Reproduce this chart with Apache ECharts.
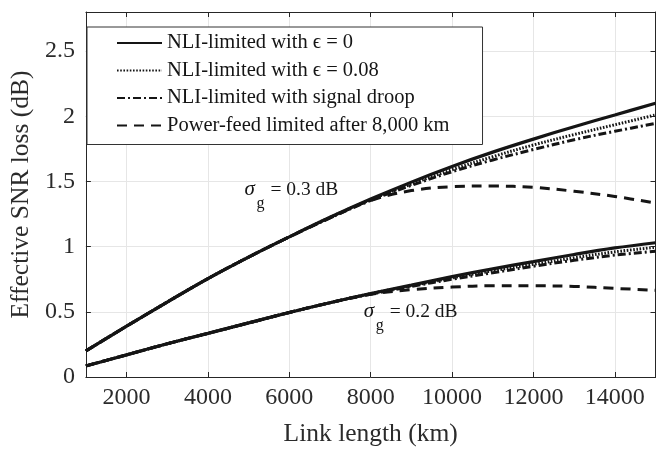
<!DOCTYPE html>
<html>
<head>
<meta charset="utf-8">
<script src="https://cdn.jsdelivr.net/npm/echarts@6/dist/echarts.min.js"></script>
<style>
  html, body { margin: 0; padding: 0; background: #fff; }
  #chart { width: 671px; height: 452px; }
</style>
</head>
<body>
<div id="chart"></div>
<script>
// Link length samples (km)
const linkKm = [1000, 2000, 3000, 4000, 5000, 6000, 7000, 8000, 9000, 10000, 11000, 12000, 13000, 14000, 15000];

// Gain-ripple sigma_g = 0.3 dB
const nliEps0_s03   = [0.20, 0.39, 0.575, 0.755, 0.92, 1.075, 1.225, 1.365, 1.495, 1.615, 1.725, 1.825, 1.92, 2.01, 2.10];
const nliEps008_s03 = [0.20, 0.39, 0.575, 0.755, 0.92, 1.075, 1.225, 1.36, 1.48, 1.59, 1.69, 1.78, 1.86, 1.935, 2.01];
const nliDroop_s03  = [0.20, 0.39, 0.575, 0.755, 0.92, 1.075, 1.22, 1.355, 1.47, 1.575, 1.665, 1.745, 1.82, 1.885, 1.945];
const powerFeed_s03 = [0.20, 0.39, 0.575, 0.755, 0.92, 1.075, 1.22, 1.355, 1.43, 1.46, 1.465, 1.455, 1.425, 1.385, 1.335];

// Gain-ripple sigma_g = 0.2 dB
const nliEps0_s02   = [0.085, 0.17, 0.255, 0.335, 0.415, 0.495, 0.57, 0.64, 0.705, 0.77, 0.83, 0.885, 0.94, 0.99, 1.03];
const nliEps008_s02 = [0.085, 0.17, 0.255, 0.335, 0.415, 0.495, 0.57, 0.64, 0.70, 0.76, 0.815, 0.865, 0.915, 0.96, 0.995];
const nliDroop_s02  = [0.085, 0.17, 0.255, 0.335, 0.415, 0.495, 0.57, 0.635, 0.695, 0.75, 0.80, 0.85, 0.895, 0.935, 0.965];
const powerFeed_s02 = [0.085, 0.17, 0.255, 0.335, 0.415, 0.495, 0.57, 0.635, 0.67, 0.69, 0.70, 0.70, 0.695, 0.68, 0.665];

// Axis ticks
const xTicks = [2000, 4000, 6000, 8000, 10000, 12000, 14000];
const yTicks = [0, 0.5, 1, 1.5, 2, 2.5];

// Legend entries
const legendNames = [
  'NLI-limited with \u03F5 = 0',
  'NLI-limited with \u03F5 = 0.08',
  'NLI-limited with signal droop',
  'Power-feed limited after 8,000 km'
];

// Curve annotations: anchor (km, dB) at the baseline-left of the label
const annotations = [
  { km: 4900, value: 1.40, text: ' = 0.3 dB' },
  { km: 7830, value: 0.46, text: ' = 0.2 dB' }
];

const SERIF = '"Liberation Serif", "DejaVu Serif", serif';
const INK = '#151515';
const AXIS = '#262626';
const TEXT = '#2b2b2b';

const styles = [
  { width: 3.2, type: 'solid' },
  { width: 3, type: [1.6, 1.6] },
  { width: 3, type: [8, 3, 2, 3] },
  { width: 3, type: [10, 7] }
];

function pairs(values) {
  return linkKm.map((k, i) => [k, values[i]]);
}

function line(nameIdx, values, z) {
  return {
    name: legendNames[nameIdx],
    type: 'line',
    data: pairs(values),
    showSymbol: false,
    symbol: 'none',
    smooth: 0.35,
    z: z,
    lineStyle: { color: INK, width: styles[nameIdx].width, type: styles[nameIdx].type, cap: 'butt' },
    itemStyle: { color: INK },
    emphasis: { disabled: true },
    animation: false
  };
}

const chart = echarts.init(document.getElementById('chart'), null, { renderer: 'canvas' });

const tickStyle = { inside: true, length: 5, lineStyle: { color: AXIS, width: 1 } };
const plainNumber = v => String(v);

chart.setOption({
  backgroundColor: '#fff',
  animation: false,
  grid: { left: 81.5, right: 15.5, top: 12, bottom: 68, containLabel: false },
  legend: {
    data: legendNames,
    orient: 'vertical',
    left: 87,
    top: 27,
    backgroundColor: '#fff',
    borderColor: '#333',
    borderWidth: 1,
    padding: [5, 33, 8, 29],
    itemWidth: 45,
    itemHeight: 14,
    itemGap: 5.5,
    selectedMode: false,
    itemStyle: { opacity: 0 },
    textStyle: { fontFamily: SERIF, fontSize: 20.5, color: INK, lineHeight: 22 }
  },
  xAxis: [
    {
      type: 'value', min: 1000, max: 15000, position: 'bottom',
      name: 'Link length (km)', nameLocation: 'middle', nameGap: 44,
      nameTextStyle: { fontFamily: SERIF, fontSize: 25.5, color: TEXT },
      axisLine: { show: true, onZero: false, lineStyle: { color: AXIS, width: 1 } },
      axisTick: Object.assign({ customValues: xTicks }, tickStyle),
      axisLabel: { customValues: xTicks, formatter: plainNumber, fontFamily: SERIF, fontSize: 24, color: TEXT, margin: 9 },
      splitLine: { show: true, lineStyle: { color: '#e6e6e6', width: 1 } }
    },
    {
      type: 'value', min: 1000, max: 15000, position: 'top',
      axisLine: { show: true, onZero: false, lineStyle: { color: AXIS, width: 1 } },
      axisTick: Object.assign({ customValues: xTicks }, tickStyle),
      axisLabel: { show: false },
      splitLine: { show: false }
    }
  ],
  yAxis: [
    {
      type: 'value', min: 0, max: 2.8, position: 'left',
      name: 'Effective SNR loss (dB)', nameLocation: 'middle', nameGap: 47,
      nameTextStyle: { fontFamily: SERIF, fontSize: 25.5, color: TEXT },
      axisLine: { show: true, onZero: false, lineStyle: { color: AXIS, width: 1 } },
      axisTick: Object.assign({ customValues: yTicks }, tickStyle),
      axisLabel: { customValues: yTicks, formatter: plainNumber, fontFamily: SERIF, fontSize: 24, color: TEXT, margin: 11 },
      splitLine: { show: true, lineStyle: { color: '#e6e6e6', width: 1 } }
    },
    {
      type: 'value', min: 0, max: 2.8, position: 'right',
      axisLine: { show: true, onZero: false, lineStyle: { color: AXIS, width: 1 } },
      axisTick: Object.assign({ customValues: yTicks }, tickStyle),
      axisLabel: { show: false },
      splitLine: { show: false }
    }
  ],
  series: [
    line(3, powerFeed_s03, 2), line(2, nliDroop_s03, 3), line(1, nliEps008_s03, 4), line(0, nliEps0_s03, 5),
    line(3, powerFeed_s02, 2), line(2, nliDroop_s02, 3), line(1, nliEps008_s02, 4), line(0, nliEps0_s02, 5)
  ]
});

// Place the sigma_g labels next to their curve pairs
const labelGroups = annotations.map(a => {
  const p = chart.convertToPixel({ xAxisIndex: 0, yAxisIndex: 0 }, [a.km, a.value]);
  return {
    type: 'group', x: p[0], y: p[1], z: 20,
    children: [
      { type: 'text', x: 0, y: 5, style: { text: '\u03C3', font: 'italic 21px ' + SERIF, fill: INK, verticalAlign: 'bottom', align: 'left' } },
      { type: 'text', x: 12, y: 17, style: { text: 'g', font: '16px ' + SERIF, fill: INK, verticalAlign: 'bottom', align: 'left' } },
      { type: 'text', x: 21, y: 5, style: { text: a.text, font: '19.5px ' + SERIF, fill: INK, verticalAlign: 'bottom', align: 'left' } }
    ]
  };
});
chart.setOption({ graphic: labelGroups });
</script>
</body>
</html>
